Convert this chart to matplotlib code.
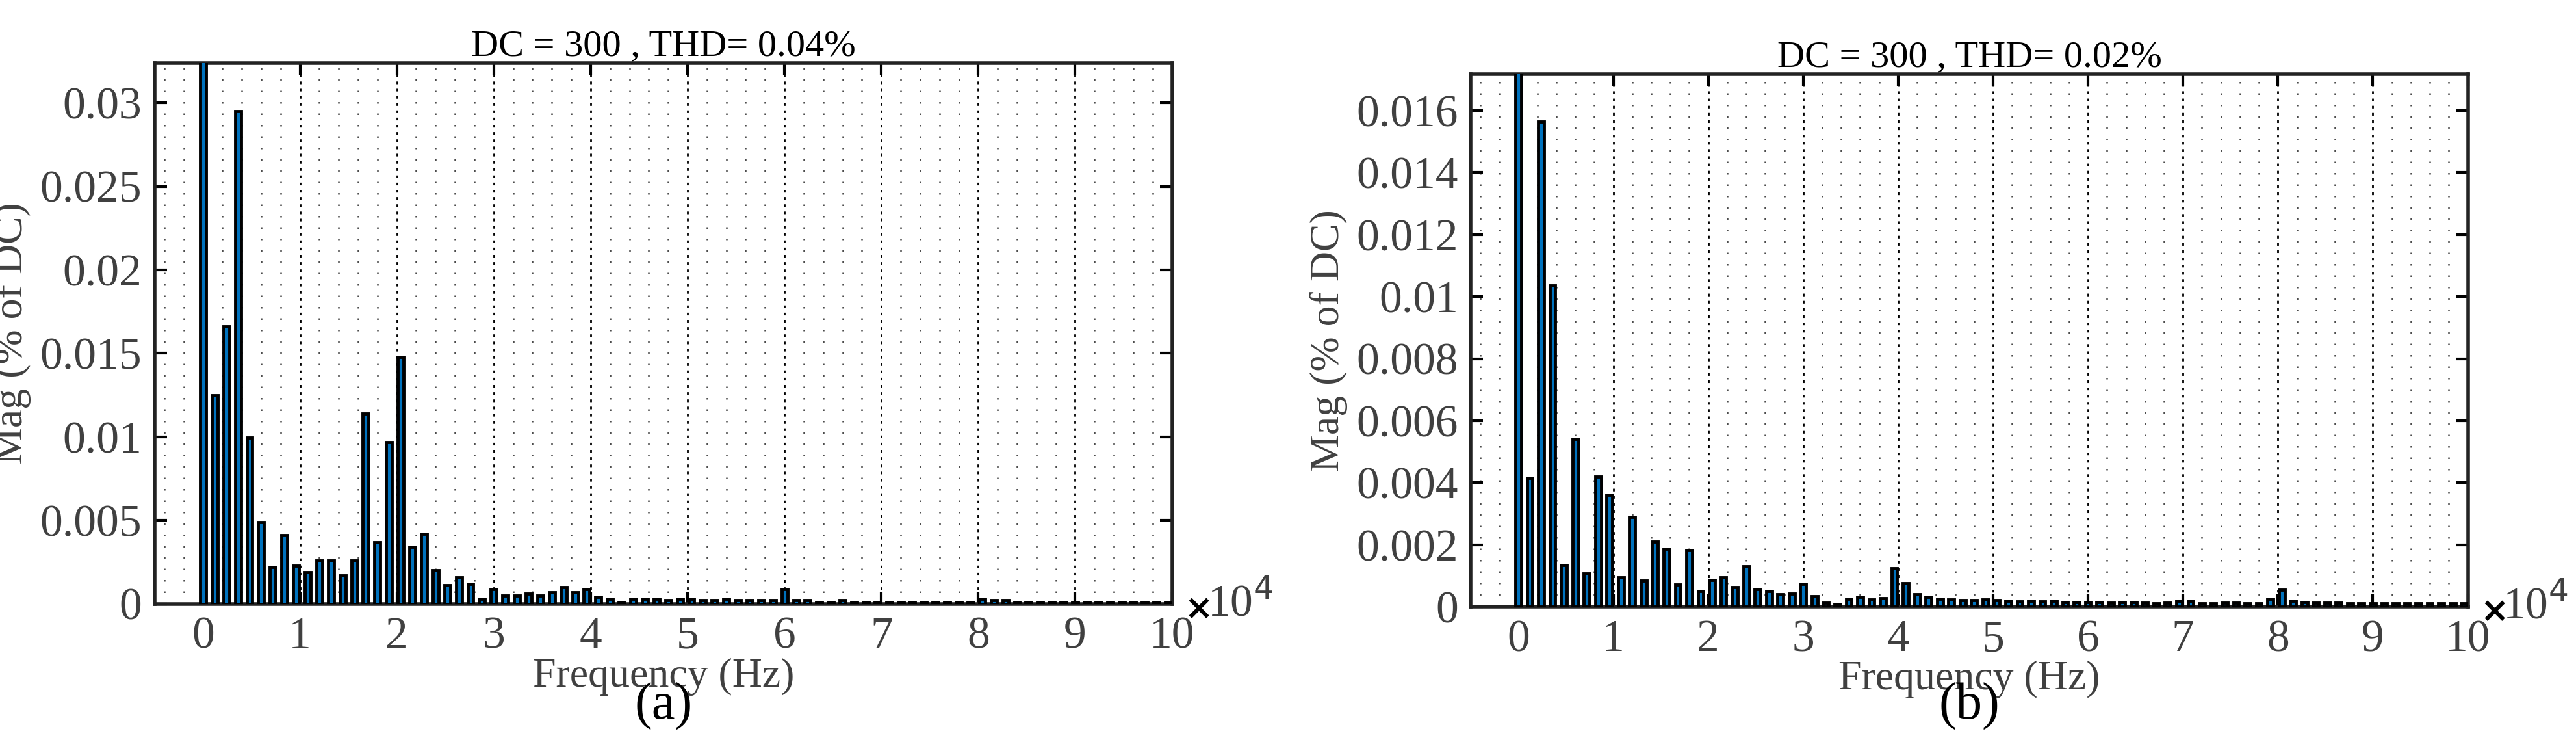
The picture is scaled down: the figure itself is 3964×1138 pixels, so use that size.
import numpy as np
import matplotlib.pyplot as plt
from matplotlib.ticker import MultipleLocator

# harmonic spectrum, bins every 1200 Hz, values in % of DC (DC bin clipped)
step = 1200.0

mag_a = [0.1, 0.0125, 0.0166, 0.0295, 0.00995, 0.0049, 0.0022, 0.0041, 0.0023, 0.0019,
         0.0026, 0.0026, 0.0017, 0.0026, 0.0114, 0.0037, 0.0097, 0.0148, 0.0034, 0.0042,
         0.0020, 0.0011, 0.0016, 0.0012, 0.0003, 0.0009, 0.0005, 0.0005, 0.0006, 0.0005,
         0.0007, 0.0010, 0.0007, 0.0009, 0.0004, 0.0003, 0.0001, 0.0003, 0.0003, 0.0003,
         0.0002, 0.0003, 0.0003, 0.0002, 0.0002, 0.0003, 0.0002, 0.0002, 0.0002, 0.0002,
         0.0009, 0.0002, 0.0002, 0.0001, 0.0001, 0.0002, 0.0001, 0.0001, 0.0001, 0.0001,
         0.0001, 0.0001, 0.0001, 0.0001, 0.0001, 0.0001, 0.0001, 0.0003, 0.0002, 0.0002,
         0.0001, 0.0001, 0.0001, 0.0001, 0.0001, 0.0001, 0.0001, 0.0001, 0.0001, 0.0001,
         0.0001, 0.0001, 0.0001, 0.0001]

mag_b = [0.1, 0.00416, 0.01564, 0.01037, 0.00135, 0.00541, 0.00108, 0.0042, 0.00362, 0.00094,
         0.00289, 0.00084, 0.00211, 0.00187, 0.00071, 0.00182, 0.00051, 0.00087, 0.00094, 0.00064,
         0.00131, 0.00057, 0.00051, 0.00041, 0.00043, 0.00074, 0.00033, 0.00013, 0.00008, 0.00025,
         0.00031, 0.00023, 0.00027, 0.00124, 0.00075, 0.00041, 0.00031, 0.00025, 0.00024, 0.00022,
         0.00022, 0.00024, 0.00022, 0.00020, 0.00018, 0.00020, 0.00018, 0.00020, 0.00016, 0.00014,
         0.00014, 0.00014, 0.00012, 0.00014, 0.00014, 0.00012, 0.00010, 0.00012, 0.00020, 0.00020,
         0.00010, 0.00010, 0.00012, 0.00012, 0.00010, 0.00010, 0.00025, 0.00054, 0.00020, 0.00014,
         0.00012, 0.00012, 0.00012, 0.00010, 0.00010, 0.00010, 0.00010, 0.00010, 0.00010, 0.00010,
         0.00010, 0.00010, 0.00010, 0.00010]

titles = ["DC = 300 , THD= 0.04%", "DC = 300 , THD= 0.02%"]
ylims = [0.0324, 0.01718]
ysteps = [0.005, 0.002]
panel = ["(a)", "(b)"]

plt.rcParams['font.family'] = ['Liberation Serif', 'DejaVu Serif']
gray = '#404040'

fig = plt.figure(figsize=(39.64, 11.38), dpi=100)
rects = [[0.060, 0.184, 0.395, 0.731], [0.571, 0.180, 0.387, 0.720]]

for k, mags in enumerate([mag_a, mag_b]):
    ax = fig.add_axes(rects[k])
    freq = np.arange(len(mags)) * step / 1e4
    ax.bar(freq, mags, width=0.06, color='#0072BD', edgecolor='black',
           linewidth=3.5, zorder=3)
    ax.set_xlim(-0.5, 10)
    ax.set_ylim(0, ylims[k])
    ax.xaxis.set_major_locator(MultipleLocator(1))
    ax.xaxis.set_minor_locator(MultipleLocator(0.2))
    ax.yaxis.set_major_locator(MultipleLocator(ysteps[k]))
    ax.grid(axis='x', which='major', linestyle=(0, (1.5, 2.5)), color='black',
            linewidth=2, zorder=0)
    ax.grid(axis='x', which='minor', linestyle=(0, (1, 6)), color='black',
            linewidth=1.8, alpha=0.7, zorder=0)
    ax.tick_params(which='major', direction='in', length=14, width=3, top=True, right=True,
                   labelsize=50, labelcolor=gray, pad=14)
    ax.tick_params(which='minor', length=0)
    ax.yaxis.set_major_formatter(plt.FuncFormatter(lambda v, p: ('%g' % v)))
    for s in ax.spines.values():
        s.set_linewidth(4)
        s.set_color('#222222')
    ax.set_title(titles[k], fontsize=42, pad=8)
    ax.set_xlabel("Frequency (Hz)", fontsize=46, color=gray, labelpad=0)
    ax.set_ylabel("Mag (% of DC)", fontsize=46, color=gray, labelpad=10)
    ax.text(1.012, -0.01, "×", transform=ax.transAxes, fontsize=38, fontweight='bold',
            family='DejaVu Sans', va='center', ha='left')
    ax.text(1.035, 0.0, "10$^{4}$", transform=ax.transAxes, fontsize=50, color=gray,
            va='center', ha='left')
    fig.text(rects[k][0] + rects[k][2] / 2, 0.045, panel[k], fontsize=58,
             ha='center', va='center')

fig.savefig('out.png', dpi=100)
